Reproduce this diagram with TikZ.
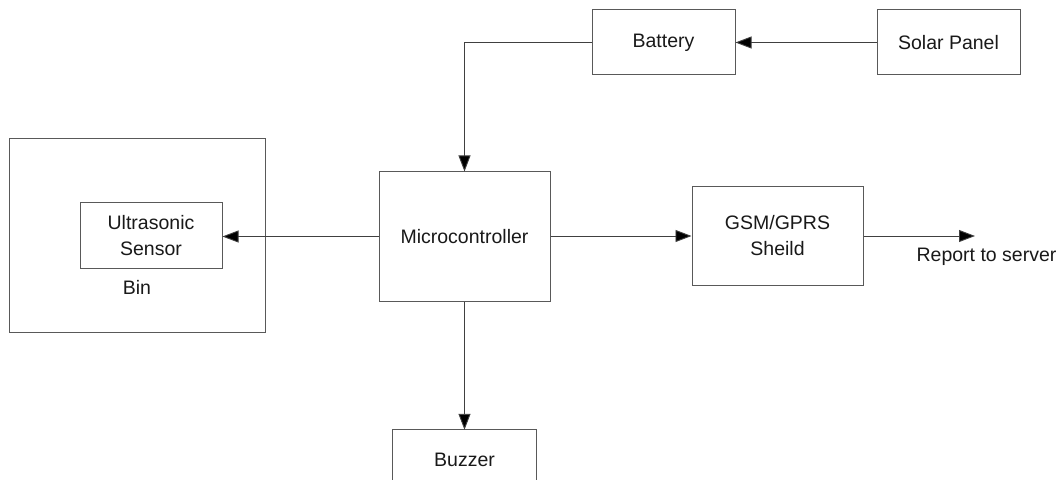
\documentclass[tikz,border=0pt]{standalone}
\usepackage{fontspec}
\setmainfont{Liberation Sans}
\usetikzlibrary{arrows.meta}
\tikzset{
  block/.style={draw=black!65, line width=1pt, fill=white, inner sep=0pt,
                align=center, text=black!90, font=\fontsize{19.5}{24}\selectfont},
  conn/.style={draw=black!75, line width=0.9pt,
               -{Triangle[length=16pt,width=12pt,fill=black]}},
  lbl/.style={text=black!90, inner sep=0pt, font=\fontsize{19.5}{24}\selectfont}
}
\begin{document}
\begin{tikzpicture}[x=1pt,y=-1pt]
  \useasboundingbox (0,0) rectangle (1062,494);

  % bin enclosure with the sensor inside
  \node[block, minimum width=256pt, minimum height=193pt] (bin) at (137,235.5) {};
  \node[lbl] (binlabel) at (137,287) {Bin};
  \node[block, minimum width=142pt, minimum height=65pt] (us) at (151,235.5)
       {Ultrasonic\\[2pt]Sensor};

  % controller and peripherals
  \node[block, minimum width=171pt, minimum height=129pt] (micro) at (464.5,236.5)
       {Microcontroller};
  \node[block, minimum width=143pt, minimum height=65pt] (battery) at (663.5,42.5)
       {Battery};
  \node[block, minimum width=143pt, minimum height=65pt] (solar) at (948.5,42.5)
       {Solar Panel};
  \node[block, minimum width=171pt, minimum height=98pt] (gsm) at (777.5,236)
       {GSM/GPRS\\[2pt]Sheild};

  % buzzer box runs past the lower edge of the page
  \node[lbl, minimum width=143pt, minimum height=60pt] (buzzer) at (464.5,460) {Buzzer};
  \draw[draw=black!65, line width=1pt]
       (buzzer.north west) ++(0,50) -- (buzzer.north west)
       -- (buzzer.north east) -- ++(0,50);

  \node[lbl] (report) at (986.5,257) {Report to server};
  \coordinate (out) at (975,236);

  % connections
  \draw[conn] (solar.west) -- (battery.east);
  \draw[conn] (battery.west) -| (micro.north);
  \draw[conn] (micro.west) -- (micro.west -| us.east);
  \draw[conn] (micro.south) -- (buzzer.north);
  \draw[conn] (micro.east |- gsm.west) -- (gsm.west);
  \draw[conn] (gsm.east) -- (out);
\end{tikzpicture}
\end{document}
